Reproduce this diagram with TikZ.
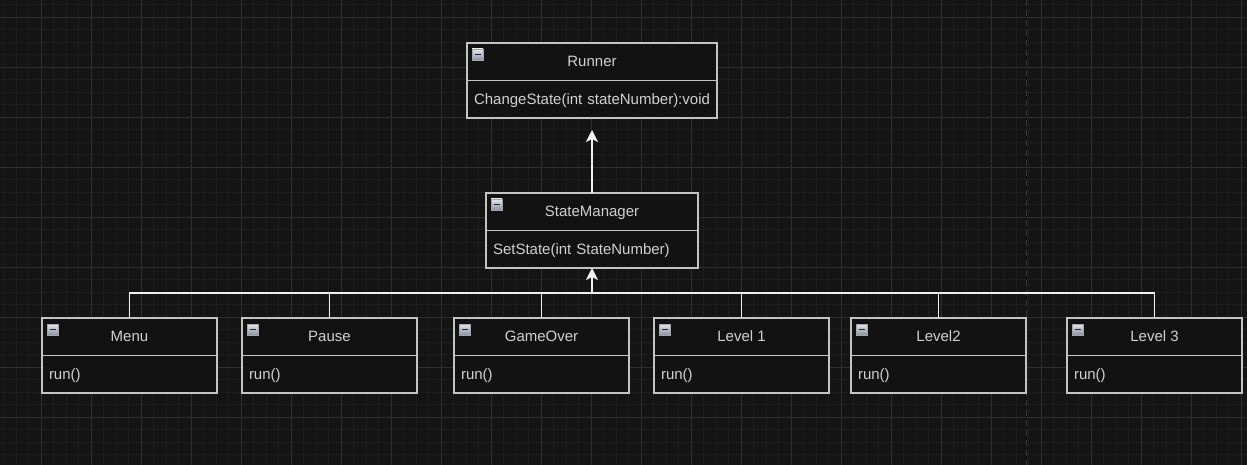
\documentclass[tikz,border=0pt]{standalone}
\usepackage{fontspec}
\setmainfont{Liberation Sans}
\usetikzlibrary{arrows.meta, positioning}
\definecolor{canvas}{HTML}{141414}
\definecolor{gridminor}{HTML}{1E1E1E}
\definecolor{gridmajor}{HTML}{2E2E2E}
\definecolor{boxfill}{HTML}{121212}
\definecolor{boxline}{HTML}{C4C4C4}
\definecolor{txt}{HTML}{D0D0D0}
\definecolor{linkcol}{HTML}{F0F0F0}
\definecolor{icontop}{HTML}{E4E6EC}
\definecolor{iconbot}{HTML}{8A92A6}
\newcommand\umlfont{\fontsize{15}{18}\selectfont}

\tikzset{
  classhead/.style={draw=boxline, fill=boxfill, line width=1.2pt, minimum width=#1,
    minimum height=37.5pt, inner sep=0pt, outer sep=0pt, text height=12pt, text depth=2pt,
    text=txt, font=\umlfont, anchor=north west},
  classbody/.style={draw=boxline, fill=boxfill, line width=1.2pt, text width=#1,
    minimum height=37.5pt, inner xsep=7pt, inner ysep=0pt, outer sep=0pt, text height=12pt,
    text depth=2pt, align=left, text=txt, font=\umlfont, anchor=north west},
  iconbox/.style={draw=gray!70, line width=0.6pt, top color=icontop, bottom color=iconbot},
  iconbar/.style={draw=black!85, line width=1.6pt},
  link/.style={draw=linkcol, line width=1.4pt},
  minorline/.style={draw=gridminor, line width=0.8pt},
  majorline/.style={draw=gridmajor, line width=0.8pt}
}

\begin{document}
\begin{tikzpicture}[x=1pt, y=-1pt]
  % canvas and grid
  \fill[canvas] (0,0) rectangle (1247,465);
  \useasboundingbox (0,0) rectangle (1247,465);
  \foreach \i in {0,...,99} \draw[minorline] (3.5+12.5*\i,0) -- (3.5+12.5*\i,465);
  \foreach \j in {0,...,37} \draw[minorline] (0,4.5+12.5*\j) -- (1247,4.5+12.5*\j);
  \foreach \i in {0,...,24} \draw[majorline] (41+50*\i,0) -- (41+50*\i,465);
  \foreach \j in {0,...,8} \draw[majorline] (0,17+50*\j) -- (1247,17+50*\j);
  \draw[draw=gray!45!black, line width=0.8pt, dash pattern=on 6pt off 4pt] (1026,0) -- (1026,465);

  % Runner
  \node[classhead=250pt] (runner) at (467,43) {Runner};
  \node[classbody=236pt] (runner-b) at (runner.south west) {ChangeState(int stateNumber):void};
  % StateManager
  \node[classhead=212pt] (mgr) at (486,193) {StateManager};
  \node[classbody=198pt] (mgr-b) at (mgr.south west) {SetState(int StateNumber)};
  % states
  \foreach \n/\x/\t in {menu/42/Menu, pause/242/Pause, gameover/454/GameOver,
      level1/654/Level 1, level2/851/Level2, level3/1067/Level 3} {
    \node[classhead=175pt] (\n) at (\x,318) {\t};
    \node[classbody=161pt] (\n-b) at (\n.south west) {run()};
  }
  % collapse icons
  \foreach \n in {runner, mgr, menu, pause, gameover, level1, level2, level3} {
    \draw[iconbox] ([shift={(5,6)}]\n.north west) rectangle ++(11,11);
    \draw[iconbar] ([shift={(7.5,11.5)}]\n.north west) -- ++(6,0);
  }

  % connectors
  \coordinate (bus) at (592,293);
  \foreach \n in {menu, pause, gameover, level1, level2, level3}
    \draw[link] (\n.north) |- (bus);
  \draw[link, -{Stealth[length=12pt, width=12pt, inset=3pt]}] (bus) -- (mgr-b.south);
  \draw[link, -{Stealth[length=12pt, width=12pt, inset=3pt]}, shorten >=12pt] (mgr.north) -- (runner-b.south);
\end{tikzpicture}
\end{document}
